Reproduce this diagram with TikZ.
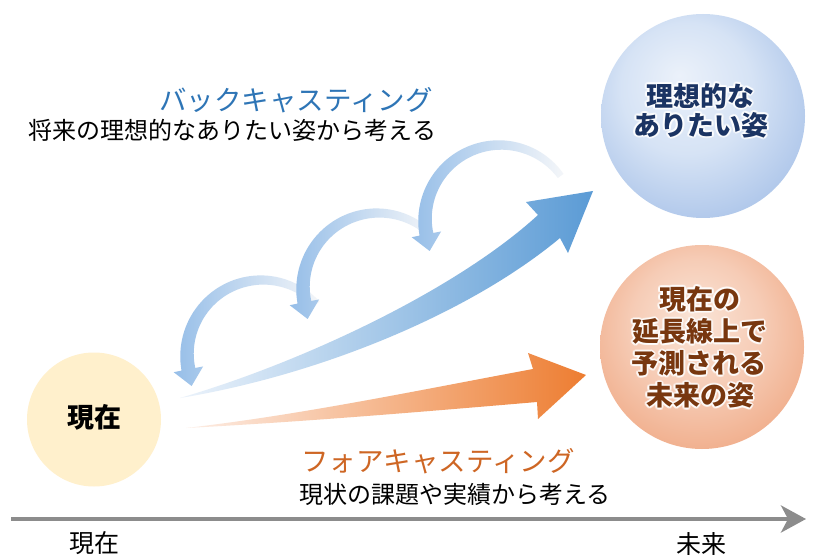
\documentclass[tikz,border=0pt]{standalone}
\usepackage{fontspec}
\setmainfont{Noto Sans CJK JP}
\usetikzlibrary{arrows.meta}
\definecolor{titleblue}{RGB}{46,117,182}
\definecolor{titleorange}{RGB}{206,102,36}
\definecolor{navytxt}{RGB}{27,52,99}
\definecolor{browntxt}{RGB}{120,55,15}
\definecolor{presentfill}{RGB}{255,240,204}
\definecolor{linegray}{RGB}{140,140,140}
\definecolor{bbDark}{RGB}{91,155,213}
\definecolor{bbMid}{RGB}{188,210,237}
\definecolor{bbLight}{RGB}{236,243,251}
\definecolor{obDark}{RGB}{237,125,49}
\definecolor{obMid}{RGB}{244,182,148}
\definecolor{obLight}{RGB}{253,238,230}
\definecolor{arcblue}{RGB}{150,190,232}
\definecolor{arcwhite}{RGB}{244,246,249}
\definecolor{bsA}{RGB}{235,241,250}
\definecolor{bsB}{RGB}{214,227,245}
\definecolor{bsC}{RGB}{160,188,230}
\definecolor{bsD}{RGB}{128,165,220}
\definecolor{bsE}{RGB}{190,210,238}
\definecolor{osA}{RGB}{250,228,214}
\definecolor{osB}{RGB}{246,204,182}
\definecolor{osC}{RGB}{238,160,120}
\definecolor{osD}{RGB}{232,136,92}
\definecolor{osE}{RGB}{243,190,165}
\pgfdeclareradialshading{bluesph}{\pgfpoint{-6bp}{10bp}}{color(0bp)=(bsA); color(16bp)=(bsB); color(36bp)=(bsC); color(43bp)=(bsD); color(47bp)=(bsE); color(50bp)=(white)}
\pgfdeclareradialshading{orangesph}{\pgfpoint{-2bp}{8bp}}{color(0bp)=(osA); color(16bp)=(osB); color(36bp)=(osC); color(43bp)=(osD); color(47bp)=(osE); color(50bp)=(white)}
\tikzset{
  ttitle/.style={inner sep=0pt, font=\fontsize{27.5pt}{30pt}\selectfont, text height=22.8pt, text depth=1.9pt},
  tsub/.style={inner sep=0pt, font=\fontsize{24pt}{28pt}\selectfont, text height=19.9pt, text depth=1.7pt, text=black},
  tbold/.style={inner sep=0pt, font=\fontsize{27pt}{30pt}\selectfont\bfseries, text height=22.4pt, text depth=1.9pt},
  tlabel/.style={inner sep=0pt, font=\fontsize{25pt}{28pt}\selectfont, text height=20.75pt, text depth=1.75pt, text=black},
  sphere/.style={circle, inner sep=0pt, minimum size=204pt, shade},
  glowtxt/.style={tbold, text=white, opacity=0.55},
}
\begin{document}
\begin{tikzpicture}[x=1pt,y=1pt]
\useasboundingbox (0,0) rectangle (816,555);
\fill[white] (0,0) rectangle (816,555);

% circles
\node[sphere, shading=bluesph] (ideal) at (703,439) {};
\node[sphere, shading=orangesph] (forecast) at (702,208) {};
\node[circle, inner sep=0pt, minimum size=134pt, fill=presentfill] (nowc) at (94,135.5) {};

% small back-casting arcs
\foreach \cx/\cy/\ao in {262/200/43, 378/267/45, 500/335/36} {
  \shade[left color=arcblue, right color=arcwhite]
    plot[smooth, variable=\t, domain=\ao:191, samples=25]
      ({\cx+(78.5+3.5*(\t-\ao)/(191-\ao))*cos(\t)}, {\cy+(78.5+3.5*(\t-\ao)/(191-\ao))*sin(\t)})
    -- ({\cx+90*cos(191)}, {\cy+90*sin(191)})
    -- ({\cx+75*cos(191)-17*sin(191)}, {\cy+75*sin(191)+17*cos(191)})
    -- ({\cx+60*cos(191)}, {\cy+60*sin(191)})
    -- plot[smooth, variable=\t, domain=191:\ao, samples=25]
      ({\cx+(71.5-3.5*(\t-\ao)/(191-\ao))*cos(\t)}, {\cy+(71.5-3.5*(\t-\ao)/(191-\ao))*sin(\t)})
    -- cycle;
}

% big blue arrow
\shade[left color=bbLight, middle color=bbMid, right color=bbDark]
  (180,157) .. controls (300,192) and (455,264) .. (538,340)
  -- (526,353) -- (593,364) -- (568,302) -- (560,317)
  .. controls (470,242) and (320,180) .. (180,157) -- cycle;

% orange arrow
\shade[left color=obLight, middle color=obMid, right color=obDark]
  (186,127) .. controls (300,140) and (420,165) .. (533,186)
  -- (528,202) -- (586,180) -- (538,136) -- (537,153)
  .. controls (420,143) and (300,133) .. (186,127) -- cycle;

% timeline
\coordinate (tl0) at (11,36);
\coordinate (tl1) at (806,36);
\draw[linegray, line width=4pt, -{Stealth[length=25pt,width=27pt,inset=7pt]}] (tl0) -- (tl1);
\node[tlabel] (lnow) at (94,12) {現在};
\node[tlabel] (lfut) at (701,11) {未来};

% titles
\node[ttitle, text=titleblue] (bctitle) at (296,455) {バックキャスティング};
\node[tsub] (bcsub) at (232.5,424.5) {将来の理想的なありたい姿から考える};
\node[ttitle, text=titleorange] (fctitle) at (438,93.5) {フォアキャスティング};
\node[tsub] (fcsub) at (455,61) {現状の課題や実績から考える};

% present text
\node[tbold, text=black] (nowtxt) at (94,138) {現在};

% circle texts with white glow
\foreach \nm/\px/\py/\txt in {ia/700/459/理想的な, ib/701/430/ありたい姿} {
  \foreach \a in {0,30,...,330}
    \node[glowtxt, xshift={2pt*cos(\a)}, yshift={2pt*sin(\a)}] (\nm h\a) at (\px,\py) {\txt};
  \node[tbold, text=navytxt] (\nm) at (\px,\py) {\txt};
}
\foreach \nm/\px/\py/\txt in {fa/700/256/現在の, fb/699.5/223.5/延長線上で, fc/698.5/191.5/予測される, fd/700/159.5/未来の姿} {
  \foreach \a in {0,30,...,330}
    \node[glowtxt, xshift={2pt*cos(\a)}, yshift={2pt*sin(\a)}] (\nm h\a) at (\px,\py) {\txt};
  \node[tbold, text=browntxt] (\nm) at (\px,\py) {\txt};
}
\end{tikzpicture}
\end{document}
